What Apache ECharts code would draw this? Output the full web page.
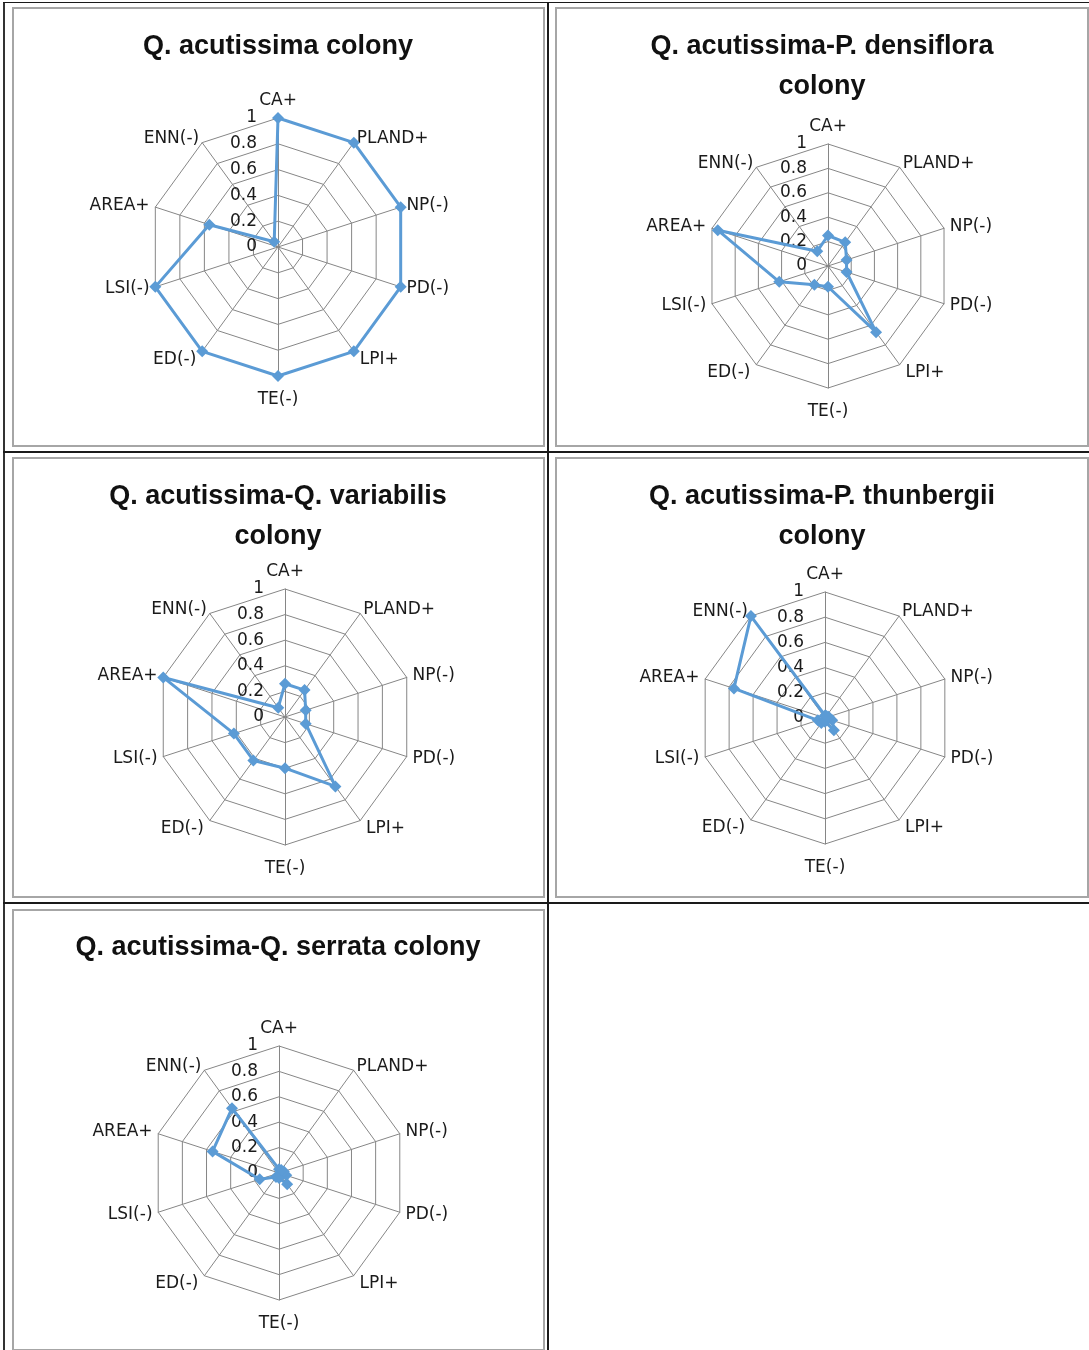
<!DOCTYPE html>
<html>
<head>
<meta charset="utf-8">
<script src="https://cdn.jsdelivr.net/npm/echarts@6/dist/echarts.min.js"></script>
<style>
  html, body { margin: 0; padding: 0; background: #fff; }
  #page { position: relative; width: 1089px; height: 1350px; overflow: hidden; background: #fff; }
  .line { position: absolute; background: #1a1a1a; }
  .frame { position: absolute; box-sizing: border-box; border: 2px solid #a6a6a6; background: #fff; }
  #chart { position: absolute; left: 0; top: 0; width: 1089px; height: 1350px; }
</style>
</head>
<body>
<div id="page">
  <div class="frame" style="left:12px;top:7px;width:533px;height:440px;"></div>
  <div class="frame" style="left:555px;top:7px;width:534px;height:440px;"></div>
  <div class="frame" style="left:12px;top:457px;width:533px;height:441px;"></div>
  <div class="frame" style="left:555px;top:457px;width:534px;height:441px;"></div>
  <div class="frame" style="left:12px;top:909px;width:533px;height:442px;"></div>
  <div class="line" style="left:3px;top:2px;width:2px;height:1350px;background:#333;"></div>
  <div class="line" style="left:3px;top:2px;width:1086px;height:1px;"></div>
  <div class="line" style="left:547px;top:2px;width:2px;height:1350px;"></div>
  <div class="line" style="left:3px;top:451px;width:1086px;height:2px;"></div>
  <div class="line" style="left:3px;top:902px;width:1086px;height:2px;"></div>
  <div id="chart"></div>
</div>
<script>
// ---- data (indicators listed clockwise from the top) ----
const indicators = ['CA+', 'PLAND+', 'NP(-)', 'PD(-)', 'LPI+', 'TE(-)', 'ED(-)', 'LSI(-)', 'AREA+', 'ENN(-)'];
const chartTitles = [
  'Q. acutissima colony',
  'Q. acutissima-P. densiflora\ncolony',
  'Q. acutissima-Q. variabilis\ncolony',
  'Q. acutissima-P. thunbergii\ncolony',
  'Q. acutissima-Q. serrata colony'
];
const valuesAcutissima   = [1, 1, 1, 1, 1, 1, 1, 1, 0.56, 0.05];
const valuesDensiflora   = [0.25, 0.24, 0.16, 0.16, 0.67, 0.17, 0.19, 0.42, 0.95, 0.15];
const valuesVariabilis   = [0.26, 0.26, 0.17, 0.17, 0.67, 0.40, 0.42, 0.42, 1.0, 0.09];
const valuesThunbergii   = [0.02, 0.02, 0.03, 0.06, 0.12, 0.03, 0.05, 0.06, 0.76, 1.0];
const valuesSerrata      = [0.03, 0.03, 0.04, 0.06, 0.11, 0.04, 0.04, 0.16, 0.55, 0.63];
const axisMin = 0;
const axisMax = 1;
const splitCount = 5;

// ECharts lays radar indicators out counter-clockwise; reorder so they run clockwise.
function clockwise(arr) {
  return [arr[0]].concat(arr.slice(1).reverse());
}

// ---- layout ----
const allValues = [valuesAcutissima, valuesDensiflora, valuesVariabilis, valuesThunbergii, valuesSerrata];
const layouts = [
  { center: [278, 247], radius: 129, titleX: 278, titleY: 27 },
  { center: [828, 266], radius: 122, titleX: 822, titleY: 27 },
  { center: [285, 717], radius: 128, titleX: 278, titleY: 477 },
  { center: [825, 718], radius: 126, titleX: 822, titleY: 477 },
  { center: [279, 1173], radius: 127, titleX: 278, titleY: 928 }
];
const nameGaps = { 'CA+': 9, 'TE(-)': 15, 'LPI+': 10, 'ED(-)': 10, 'NP(-)': 6, 'PD(-)': 6, 'LSI(-)': 6, 'AREA+': 6, 'PLAND+': 5, 'ENN(-)': 5 };
const labelColor = '#1a1a1a';
const gridColor = '#868686';
const lineColor = '#5B9BD5';

const chart = echarts.init(document.getElementById('chart'), null, { renderer: 'canvas' });

const orderedNames = clockwise(indicators);

const radars = layouts.map(function (l) {
  return {
    center: l.center,
    radius: l.radius,
    startAngle: 90,
    shape: 'polygon',
    splitNumber: splitCount,
    nameGap: 6,
    axisName: { color: labelColor, fontFamily: 'DejaVu Sans', fontSize: 17 },
    indicator: orderedNames.map(function (n, i) {
      const ind = { name: n, min: axisMin, max: axisMax, nameGap: nameGaps[n] };
      if (i === 0) {
        ind.axisLabel = {
          show: true, color: labelColor, fontFamily: 'DejaVu Sans', fontSize: 17, margin: 21,
          formatter: function (v) { return String(Math.round(v * 10) / 10); }
        };
      }
      return ind;
    }),
    axisLabel: { show: false },
    axisTick: { show: false },
    axisLine: { show: true, lineStyle: { color: gridColor, width: 1 } },
    splitLine: { show: true, lineStyle: { color: gridColor, width: 1 } },
    splitArea: { show: false }
  };
});

const series = allValues.map(function (vals, i) {
  return {
    type: 'radar',
    radarIndex: i,
    symbol: 'diamond',
    symbolSize: 12,
    lineStyle: { color: lineColor, width: 3 },
    itemStyle: { color: lineColor },
    data: [{ value: clockwise(vals) }]
  };
});

const titles = layouts.map(function (l, i) {
  return {
    text: chartTitles[i],
    left: l.titleX,
    top: l.titleY,
    textAlign: 'center',
    padding: 0,
    textStyle: { fontFamily: 'Liberation Sans', fontWeight: 'bold', fontSize: 27, color: '#111', lineHeight: 40 }
  };
});

chart.setOption({
  animation: false,
  backgroundColor: 'transparent',
  title: titles,
  radar: radars,
  series: series
});
</script>
</body>
</html>
